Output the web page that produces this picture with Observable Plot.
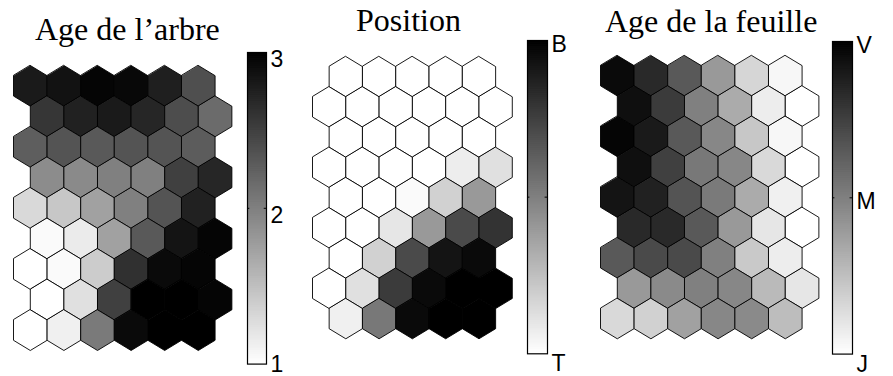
<!DOCTYPE html>
<html><head><meta charset="utf-8">
<script src="https://cdn.jsdelivr.net/npm/d3@7"></script>
<script src="https://cdn.jsdelivr.net/npm/@observablehq/plot@0.6"></script>
<style>
body{margin:0;background:#fff;}
#chart{position:relative;width:893px;height:376px;overflow:hidden;background:#fff;}
#chart > div{position:absolute;}
#chart svg{background:transparent !important;overflow:visible;}
.ttl{font-family:"Liberation Serif","Times New Roman",serif;font-size:32px;line-height:1;white-space:nowrap;color:#000;}
</style></head><body><div id="chart"></div><script>
// ---- data ----
const titles = ["Age de l’arbre", "Position", "Age de la feuille"];

// Age de l'arbre (1..3), 9 rows x 6 hexagons, top row first
const ageArbre = [
  [2.80, 2.86, 2.96, 2.94, 2.76, 2.38],
  [2.58, 2.74, 2.80, 2.70, 2.40, 2.16],
  [2.26, 2.34, 2.30, 2.34, 2.34, 2.28],
  [1.90, 1.92, 2.00, 2.00, 2.50, 2.70],
  [1.30, 1.44, 1.74, 2.00, 2.34, 2.74],
  [1.04, 1.16, 1.74, 2.30, 2.84, 2.96],
  [1.00, 1.04, 1.40, 2.62, 2.92, 2.96],
  [1.00, 1.24, 2.50, 3.00, 3.00, 2.96],
  [1.00, 1.12, 2.04, 2.92, 3.00, 3.00]
];
// Position (T = 0 .. B = 1)
const position = [
  [0.00, 0.00, 0.00, 0.00, 0.00],
  [0.00, 0.00, 0.00, 0.00, 0.00, 0.00],
  [0.00, 0.00, 0.00, 0.00, 0.00],
  [0.00, 0.00, 0.00, 0.00, 0.07, 0.12],
  [0.00, 0.00, 0.02, 0.18, 0.40],
  [0.00, 0.00, 0.10, 0.40, 0.71, 0.80],
  [0.00, 0.18, 0.71, 0.92, 0.96],
  [0.00, 0.12, 0.77, 0.96, 1.00, 1.00],
  [0.06, 0.53, 0.96, 1.00, 1.00]
];
// Age de la feuille (J = 0 .. M = 0.5 .. V = 1)
const ageFeuille = [
  [0.96, 0.84, 0.65, 0.40, 0.16, 0.03],
  [0.94, 0.77, 0.50, 0.33, 0.07, 0.00],
  [0.98, 0.90, 0.65, 0.47, 0.22, 0.03],
  [0.94, 0.75, 0.53, 0.47, 0.15, 0.00],
  [0.92, 0.87, 0.67, 0.52, 0.33, 0.06],
  [0.84, 0.84, 0.65, 0.40, 0.10, 0.00],
  [0.65, 0.71, 0.71, 0.50, 0.21, 0.07],
  [0.40, 0.46, 0.50, 0.47, 0.27, 0.10],
  [0.15, 0.18, 0.37, 0.47, 0.46, 0.26]
];

// colour-bar ticks
const ticksArbre = [1, 2, 3];
const labelsArbre = ["1", "2", "3"];
const ticksPosition = [0, 0.5, 1];
const labelsPosition = ["T", "", "B"];
const ticksFeuille = [0, 0.5, 1];
const labelsFeuille = ["J", "M", "V"];

// ---- layout ----
const panels = [
  {title: titles[0], rows: ageArbre, domain: [1, 3], ticks: ticksArbre, labels: labelsArbre,
   shiftEven: false, hex: {left: 13.3, top: 65, w: 33.6, h: 285},
   bar: {left: 246.5, top: 51.7, w: 19, h: 311.6, dyTop: 7, dyBottom: 0.5},
   tt: {left: 35, baseline: 40}},
  {title: titles[1], rows: position, domain: [0, 1], ticks: ticksPosition, labels: labelsPosition,
   shiftEven: true, hex: {left: 311.7, top: 56, w: 33.3, h: 282.3},
   bar: {left: 526.7, top: 40, w: 20, h: 313.3, dyTop: 4.6, dyBottom: 10.3},
   tt: {left: 356, baseline: 31}},
  {title: titles[2], rows: ageFeuille, domain: [0, 1], ticks: ticksFeuille, labels: labelsFeuille,
   shiftEven: false, hex: {left: 600, top: 55, w: 33.6, h: 283.3},
   bar: {left: 832.3, top: 40.7, w: 20, h: 312.6, dyTop: 4.2, dyBottom: 10.3},
   tt: {left: 605, baseline: 32}}
];

const corners = [[0, -2/3], [0.5, -1/3], [0.5, 1/3], [0, 2/3], [-0.5, 1/3], [-0.5, -1/3]];
function hexTable(rows, shiftEven) {
  const out = [];
  rows.forEach((vals, r) => vals.forEach((v, c) => {
    const cx = c + (((r % 2 === 0) === shiftEven) ? 0.5 : 0);
    for (const [dx, dy] of corners) out.push({id: r * 10 + c, v, x: cx + dx, y: r + dy});
  }));
  return out;
}

const chart = document.getElementById("chart");
const grey = ["#ffffff", "#000000"];

for (const p of panels) {
  // hexagons
  const hx = document.createElement("div");
  hx.style.left = (p.hex.left - 1) + "px";
  hx.style.top = (p.hex.top - 1) + "px";
  hx.appendChild(Plot.plot({
    width: 6.5 * p.hex.w + 2, height: p.hex.h + 2,
    marginTop: 1, marginBottom: 1, marginLeft: 1, marginRight: 1,
    x: {domain: [-0.5, 6], axis: null},
    y: {domain: [-2/3, 8 + 2/3], reverse: true, axis: null},
    color: {type: "linear", domain: p.domain, range: grey},
    marks: [
      Plot.line(hexTable(p.rows, p.shiftEven), {x: "x", y: "y", z: "id", fill: "v",
        stroke: "#000", strokeWidth: 0.9, strokeLinejoin: "miter", curve: "linear-closed"})
    ]
  }));
  chart.appendChild(hx);

  // colour bar
  const n = 160;
  const [d0, d1] = p.domain;
  const step = (d1 - d0) / n;
  const steps = d3.range(n).map(i => d0 + i * step);
  const mid = (d0 + d1) / 2;
  const tickData = p.ticks.map((t, i) => ({t, label: p.labels[i]}));
  const mT = 20, mB = 30, mR = 40;
  const cb = document.createElement("div");
  cb.style.left = (p.bar.left - 1) + "px";
  cb.style.top = (p.bar.top - mT) + "px";
  cb.appendChild(Plot.plot({
    width: p.bar.w + 1 + mR, height: p.bar.h + mT + mB,
    marginTop: mT, marginBottom: mB, marginLeft: 1, marginRight: mR,
    x: {domain: [0, 1], axis: null},
    y: {domain: p.domain, axis: null},
    color: {type: "linear", domain: p.domain, range: grey},
    style: {fontFamily: "Liberation Sans, Arial, sans-serif"},
    marks: [
      Plot.rect(steps, {x1: 0, x2: 1, y1: d => d, y2: d => Math.min(d1, d + step * 1.6), fill: d => d + step / 2}),
      Plot.ruleY([mid], {x1: 0, x2: 0.12, stroke: "#000", strokeWidth: 1}),
      Plot.ruleY([mid], {x1: 0.88, x2: 1, stroke: "#000", strokeWidth: 1}),
      Plot.frame({stroke: "#000", strokeWidth: 1.2}),
      Plot.text(tickData.filter(d => d.t !== d0), {x: 1, y: "t", text: "label", textAnchor: "start",
        dx: 4, dy: p.bar.dyTop, fontSize: 23, fill: "#000"}),
      Plot.text(tickData.filter(d => d.t === d0), {x: 1, y: "t", text: "label", textAnchor: "start",
        dx: 4, dy: p.bar.dyBottom, fontSize: 23, fill: "#000"})
    ]
  }));
  chart.appendChild(cb);

  // title
  const t = document.createElement("div");
  t.className = "ttl";
  t.textContent = p.title;
  t.style.left = p.tt.left + "px";
  t.style.top = (p.tt.baseline - 0.8375 * 32) + "px";
  chart.appendChild(t);
}
</script></body></html>
